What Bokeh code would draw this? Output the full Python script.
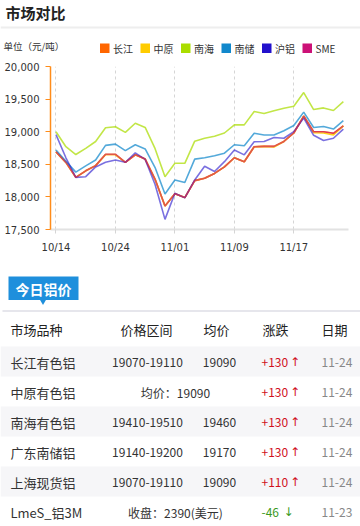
from bokeh.plotting import figure
from bokeh.layouts import column
from bokeh.models import Range1d, FixedTicker, NumeralTickFormatter
from bokeh.core.properties import value
from bokeh.embed import file_html
from bokeh.resources import INLINE

# ---------------- data ----------------
series_names = ["长江", "中原", "南海", "南储", "沪铝", "SME"]
series_colors = ["#FF6600", "#FFCC00", "#AADD00", "#1188CC", "#2211CC", "#CC1177"]
tick_index = [0, 6, 12, 18, 24]
tick_labels = ["10/14", "10/24", "11/01", "11/09", "11/17"]
y_ticks = [17500, 18000, 18500, 19000, 19500, 20000]

changjiang = [18690, 18530, 18300, 18400, 18480, 18650, 18650, 18530, 18645, 18580,
              18270, 17860, 18050, 17990, 18250, 18285, 18360, 18460, 18600, 18540,
              18770, 18775, 18775, 18850, 18980, 19240, 19000, 19000, 18975, 19090]
zhongyuan = [18690, 18530, 18300, 18400, 18480, 18650, 18650, 18530, 18645, 18580,
             18270, 17860, 18050, 17990, 18250, 18285, 18360, 18460, 18600, 18540,
             18770, 18775, 18765, 18850, 18980, 19240, 18985, 18980, 18950, 19090]
nanhai = [19000, 18770, 18650, 18745, 18850, 19060, 19075, 18990, 19130, 19065,
          18740, 18310, 18515, 18515, 18855, 18900, 18930, 18980, 19105, 19105,
          19310, 19280, 19320, 19360, 19390, 19600, 19340, 19365, 19325, 19460]
nanchu = [18720, 18545, 18380, 18475, 18565, 18790, 18810, 18710, 18800, 18735,
          18450, 18045, 18260, 18220, 18580, 18600, 18630, 18670, 18800, 18785,
          18975, 18950, 18950, 19015, 19095, 19300, 19065, 19080, 19040, 19170]
hulv = [18955, 18600, 18300, 18310, 18460, 18530, 18565, 18530, 18675, 18575,
        18190, 17655, 18055, 17985, 18260, 18470, 18390, 18540, 18720, 18645,
        18845, 18850, 18910, 18900, 19000, 19210, 18945, 18865, 18900, 19040]
sme = [18690, 18530, 18300, 18400, 18480, 18655, 18655, 18530, 18645, 18580,
       18270, 17860, 18050, 17990, 18250, 18285, 18360, 18460, 18600, 18540,
       18770, 18775, 18775, 18850, 18980, 19240, 19000, 19000, 18975, 19090]
series_values = [changjiang, zhongyuan, nanhai, nanchu, hulv, sme]

table_header = ["市场品种", "价格区间", "均价", "涨跌", "日期"]
table_names = ["长江有色铝", "中原有色铝", "南海有色铝", "广东南储铝", "上海现货铝", "LmeS_铝3M"]
table_ranges = ["19070-19110", "", "19410-19510", "19140-19200", "19070-19110", ""]
table_avgs = ["19090", "", "19460", "19170", "19090", ""]
table_merged = ["", "均价：19090", "", "", "", "收盘：2390(美元)"]
table_changes = ["+130", "+130", "+130", "+130", "+110", "-46"]
table_dates = ["11-24", "11-24", "11-24", "11-24", "11-24", "11-23"]

CJK = value("Noto Sans CJK SC")
W = 360


def blank(y0, y1):
    p = figure(width=W, height=y1 - y0, x_range=Range1d(0, W), y_range=Range1d(y1, y0),
               x_axis_type=None, y_axis_type=None, output_backend="svg",
               toolbar_location=None, min_border=0, frame_align=False)
    p.grid.visible = False
    p.outline_line_color = None
    return p


# ---------------- header ----------------
head = blank(0, 58)
head.text(x=[5], y=[11.5], text=["市场对比"], text_font=CJK, text_font_size="15px",
          text_font_style="bold", text_color="#222222", text_baseline="middle")
head.segment(x0=[0], y0=[27], x1=[W], y1=[27], line_color="#EEEEEE", line_width=2)
head.text(x=[3], y=[45.5], text=["单位（元/吨）"], text_font=CJK, text_font_size="9.5px",
          text_color="#333333", text_baseline="middle")
leg_x = [99.5 + 40.5 * i for i in range(len(series_names))]
head.quad(left=leg_x, right=[x + 9.5 for x in leg_x], top=43, bottom=52.5,
          fill_color=series_colors, line_color=None)
head.text(x=[x + 13 for x in leg_x], y=[48] * len(series_names), text=series_names,
          text_font=CJK, text_font_size="10px", text_color="#333333", text_baseline="middle")

# ---------------- chart ----------------
n = len(changjiang)
xs = list(range(n))
p = figure(width=W, height=204, x_range=Range1d(-0.555, 29.52), y_range=Range1d(17500, 20000),
           output_backend="svg", toolbar_location=None, frame_align=False,
           min_border_left=50, min_border_right=12, min_border_top=8, min_border_bottom=33)
p.outline_line_color = None
p.ygrid.visible = False
p.xgrid.ticker = FixedTicker(ticks=tick_index)
p.xgrid.grid_line_color = "#D5D5D5"
p.xgrid.grid_line_dash = "3 3"

p.xaxis.ticker = FixedTicker(ticks=tick_index)
p.xaxis.major_label_overrides = {i: l for i, l in zip(tick_index, tick_labels)}
p.xaxis.axis_line_color = "#E2E2E2"
p.xaxis.axis_line_width = 2
p.xaxis.major_tick_line_color = "#D5D5D5"
p.xaxis.major_tick_out = 4
p.xaxis.major_tick_in = 0
p.xaxis.minor_tick_line_color = None
p.xaxis.major_label_standoff = 8
p.xaxis.major_label_text_font = "DejaVu Sans"
p.xaxis.major_label_text_font_size = "10px"
p.xaxis.major_label_text_color = "#333333"

p.yaxis.ticker = FixedTicker(ticks=y_ticks)
p.yaxis.formatter = NumeralTickFormatter(format="0,0")
p.yaxis.axis_line_color = "#FF8C1A"
p.yaxis.axis_line_width = 1.5
p.yaxis.major_tick_line_color = "#FF8C1A"
p.yaxis.major_tick_out = 5
p.yaxis.major_tick_in = 0
p.yaxis.minor_tick_line_color = None
p.yaxis.major_label_standoff = 6
p.yaxis.major_label_text_font = "DejaVu Sans"
p.yaxis.major_label_text_font_size = "10px"
p.yaxis.major_label_text_color = "#333333"

alphas = [0.9, 0.9, 0.72, 0.72, 0.6, 0.6]
for vals, col, a in zip(series_values, series_colors, alphas):
    p.line(xs, vals, line_color=col, line_width=1.6, line_alpha=a)

# ---------------- table ----------------
t = blank(262, 526)
blue = "#1E8FDC"
t.quad(left=[8], right=[78], top=[276], bottom=[299.5], fill_color=blue, line_color=None)
t.scatter(x=[42.5], y=[300.5], marker="inverted_triangle", size=7, fill_color=blue, line_color=None)
t.text(x=[43], y=[288], text=["今日铝价"], text_font=CJK, text_font_size="14px",
       text_font_style="bold", text_color="white", text_align="center", text_baseline="middle")
t.segment(x0=[2], y0=[310.5], x1=[W], y1=[310.5], line_color="#E6E6EC", line_width=2)

head_x = [10, 146, 216, 275, 334]
head_align = ["left", "center", "center", "center", "center"]
t.text(x=head_x, y=[328.5] * 5, text=table_header, text_font=CJK, text_font_size="13px",
       text_color="#222222", text_baseline="middle", text_align=head_align)

rows = len(table_names)
row_h = 30
row_top = [346 + row_h * i for i in range(rows)]
row_mid = [r + 15.5 for r in row_top]
stripe = [i for i in range(rows) if i % 2 == 0]
t.quad(left=0, right=W, top=[row_top[i] for i in stripe],
       bottom=[row_top[i] + row_h for i in stripe], fill_color="#F6F6F8", line_color=None)

t.text(x=[10] * rows, y=row_mid, text=table_names, text_font=CJK, text_font_size="13px",
       text_color="#333333", text_baseline="middle")
t.text(x=[147] * rows, y=row_mid, text=table_ranges, text_font=CJK, text_font_size="12px",
       text_color="#333333", text_baseline="middle", text_align="center")
t.text(x=[219] * rows, y=row_mid, text=table_avgs, text_font=CJK, text_font_size="12px",
       text_color="#333333", text_baseline="middle", text_align="center")
t.text(x=[175] * rows, y=row_mid, text=table_merged, text_font=CJK, text_font_size="12px",
       text_color="#333333", text_baseline="middle", text_align="center")
chg_colors = ["#D0101B" if c.startswith("+") else "#3A9A1E" for c in table_changes]
arrows = ["↑" if c.startswith("+") else "↓" for c in table_changes]
arrow_x = [289.5 if c.startswith("+") else 283 for c in table_changes]
t.text(x=[261] * rows, y=row_mid, text=table_changes, text_font=CJK, text_font_size="12px",
       text_color=chg_colors, text_baseline="middle")
t.text(x=arrow_x, y=row_mid, text=arrows, text_font=value("DejaVu Sans"), text_font_size="12px",
       text_color=chg_colors, text_baseline="middle")
t.text(x=[321] * rows, y=row_mid, text=table_dates, text_font=CJK, text_font_size="12px",
       text_color="#888888", text_baseline="middle")

layout = column(head, p, t, spacing=0)
open("out.html", "w").write(file_html(layout, INLINE))
